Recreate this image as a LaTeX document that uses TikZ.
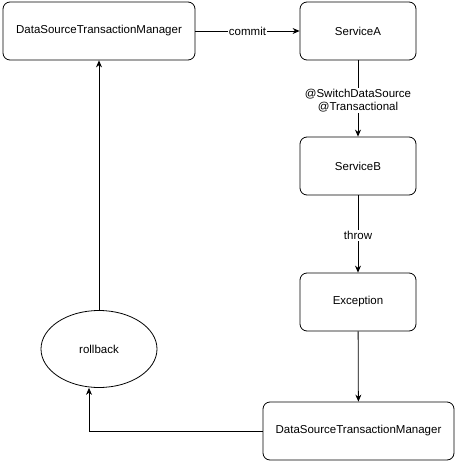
\documentclass[tikz,border=0pt]{standalone}
\usepackage{fontspec}
\setmainfont{Liberation Sans}
\usetikzlibrary{arrows.meta,shapes.geometric}
\begin{document}
\begin{tikzpicture}[x=1pt,y=-1pt,
  box/.style={draw,rounded corners=7pt,line width=0.8pt,inner sep=0pt,font=\fontsize{11.5}{13.5}\selectfont},
  conn/.style={line width=0.8pt,-{Stealth[length=7pt,width=6pt]}},
  lbl/.style={fill=white,inner sep=1pt,font=\fontsize{11.5}{13.5}\selectfont,align=center}]
\useasboundingbox (0,0) rectangle (458,463);
\node[box,minimum width=192pt,minimum height=58pt] (dstm1) at (99,31) {DataSourceTransactionManager};
\node[box,minimum width=116pt,minimum height=58pt] (sa) at (358,31) {ServiceA};
\node[box,minimum width=116pt,minimum height=58pt] (sb) at (358,166) {ServiceB};
\node[box,minimum width=116pt,minimum height=58pt] (ex) at (358,302) {Exception};
\node[box,minimum width=191pt,minimum height=58pt] (dstm2) at (358.5,431) {DataSourceTransactionManager};
\node[draw,ellipse,line width=0.8pt,minimum width=116pt,minimum height=77pt,inner sep=0pt,font=\fontsize{11.5}{13.5}\selectfont] (rb) at (99,349) {rollback};
\coordinate (c1) at (89,431);
\draw[conn] (dstm1) -- node[lbl] {commit} (sa);
\draw[conn] (sa) -- node[lbl,pos=0.53] {@SwitchDataSource\\@Transactional} (sb);
\draw[conn] (sb) -- node[lbl,pos=0.52] {throw} (ex);
\draw[conn] (ex) -- (dstm2);
\draw[conn] (dstm2.west) -- (c1) -- (c1 |- rb.south);
\draw[conn] (rb) -- (dstm1);
\end{tikzpicture}
\end{document}
